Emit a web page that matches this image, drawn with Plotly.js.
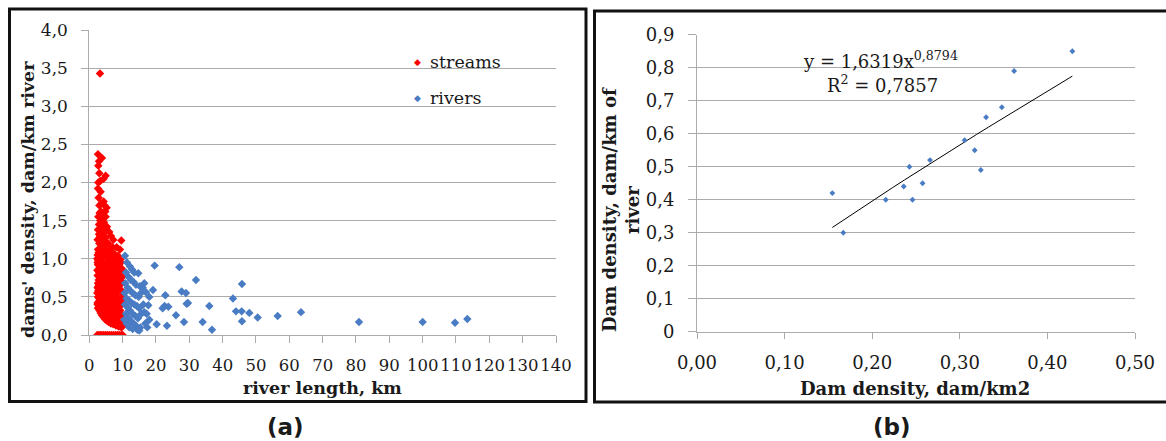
<!DOCTYPE html>
<html>
<head>
<meta charset="utf-8">
<script src="https://cdn.plot.ly/plotly-3.0.1.min.js"></script>
<style>
html,body{margin:0;padding:0;background:#fff;}
#chart{width:1166px;height:441px;}
</style>
</head>
<body>
<div id="chart"></div>
<script>
// ---------- Panel (a): streams ----------
var streamsLength = [
3.2,2.6,3.8,2.7,3.0,4.9,4.3,2.7,3.3,2.9,2.6,3.4,2.8,3.6,4.6,5.2,4.8,3.0,3.5,4.3,3.1,2.7,3.9,4.4,3.3,4.0,4.9,5.3,2.9,3.5,2.6,4.6,6.0,4.1,2.9,3.3,6.5,5.0,3.7,7.2,9.6,2.5,4.2,5.7,3.0,4.5,8.2,3.8,2.6,9.2,3.2,6.8,7.8,8.8,9.5,
2.5,2.9,3.4,3.9,4.4,5.1,5.8,6.3,7.1,8.0,8.6,9.3,
2.6,3.1,3.7,4.2,4.8,5.5,6.1,6.9,7.6,8.3,9.0,9.8,
2.5,2.8,3.3,3.8,4.5,5.0,5.9,6.6,7.3,8.1,8.7,9.4,9.9,
2.7,3.0,3.6,4.0,4.7,5.3,6.2,7.0,7.8,8.4,9.1,9.7,
2.6,3.2,3.9,4.3,5.0,5.7,6.4,7.4,8.0,8.9,9.6,
2.5,2.9,3.5,4.2,4.9,5.6,6.3,7.0,7.9,8.6,9.5,
3.6,4.0,4.6,5.2,6.0,6.8,7.5,8.3,9.2,9.9,
5.4,6.2,7.0,7.8,8.6,9.4,
7.5,8.4,9.1,9.9,
2.5,2.8,3.1,3.4,3.8,4.2,4.7,5.2,5.8,6.5,7.2,8.0,8.8,9.6,
2.4,2.9,3.3,3.8,4.3,4.9,5.4,6.0,6.6,7.2,7.8,8.4,9.0,9.6,10.0,
2.7,3.0,2.8,3.2,2.6,3.1,2.7,3.4,2.8,3.0,3.5,3.4,4.1,4.4,4.9,5.5,5.9,6.5,7.5,6.7,7.7,8.4,9.0,9.3,8.2,7.3,6.4,5.5,4.6,
2.4,2.4,2.4,2.5,2.5,2.6,2.8,2.9,3.0,3.1,3.3,3.3,3.6,3.6,3.7,3.9,4.0,4.1,4.2,4.7,4.8,5.2,5.3,5.6,6.0,6.2,6.7,6.9,7.4,7.0,8.0,8.5,8.9,9.7,9.8,9.3,8.6,7.7,6.6,5.9,5.0,4.4,3.2
];
var streamsDensity = [
3.43,2.37,2.32,2.22,2.12,2.09,2.05,2.00,2.02,2.28,1.92,1.88,1.80,1.72,1.70,1.67,1.62,1.70,1.62,1.75,1.60,1.55,1.52,1.48,1.50,1.60,1.55,1.42,1.45,1.40,1.38,1.38,1.35,1.33,1.32,1.30,1.30,1.28,1.26,1.25,1.24,1.25,1.22,1.20,1.20,1.18,1.15,1.15,1.12,1.12,1.10,1.10,1.05,1.00,0.95,
1.05,1.02,1.06,1.00,1.08,1.03,1.06,0.98,1.02,0.97,1.04,0.99,
0.92,0.88,0.94,0.86,0.93,0.87,0.92,0.86,0.91,0.85,0.90,0.87,
0.78,0.72,0.80,0.74,0.78,0.71,0.77,0.72,0.79,0.73,0.78,0.71,0.76,
0.64,0.57,0.62,0.55,0.63,0.58,0.64,0.56,0.62,0.57,0.65,0.58,
0.50,0.46,0.52,0.45,0.50,0.47,0.52,0.46,0.51,0.45,0.50,
0.42,0.38,0.41,0.36,0.40,0.35,0.41,0.37,0.40,0.35,0.39,
0.30,0.28,0.30,0.26,0.29,0.25,0.29,0.26,0.28,0.25,
0.21,0.18,0.20,0.17,0.19,0.16,
0.15,0.13,0.12,0.11,
0.40,0.36,0.32,0.29,0.26,0.24,0.21,0.19,0.17,0.15,0.14,0.125,0.11,0.10,
0,0,0,0,0,0,0,0,0,0,0,0,0,0,0,
0.98,0.95,0.85,0.76,0.68,0.66,0.58,0.52,0.44,0.82,0.70,0.88,0.66,0.92,0.84,0.66,0.56,0.82,0.68,0.45,0.53,0.66,0.58,0.42,0.32,0.33,0.30,0.31,0.34,
0.55,0.85,1.00,0.62,0.95,0.35,1.08,0.62,0.48,1.28,0.95,0.62,0.48,1.02,0.82,1.35,0.78,1.45,1.02,1.12,0.55,1.20,0.78,0.95,1.12,0.70,0.60,0.95,0.88,1.15,0.85,0.95,0.82,0.68,0.45,0.32,0.24,0.22,0.20,0.22,0.24,0.27,0.35
];

// ---------- Panel (a): rivers ----------
var riversLength = [
10.7,19.6,27.0,32.0,45.8,43.1,36.0,44.0,45.7,48.0,50.5,56.5,45.8,36.8,34.0,28.4,26.0,29.2,29.6,27.7,29.0,22.8,22.0,22.6,23.7,23.3,20.2,19.1,17.7,17.4,16.5,14.7,14.4,12.2,63.5,80.9,100.0,109.7,113.4,
11.3,12.8,13.5,11.0,11.8,12.5,13.2,14.0,15.2,16.0,10.8,11.5,12.3,13.0,13.8,14.8,15.5,17.0,18.0,10.6,11.2,12.0,12.7,13.5,14.3,15.0,16.2,10.7,11.5,12.2,13.0,13.8,14.6,15.6,16.5,11.0,11.8,12.5,13.3,14.0,15.3,16.8,10.5,11.2,12.0,13.0,15.0,18.0,17.2
];
var riversDensity = [
1.04,0.91,0.89,0.72,0.67,0.48,0.38,0.31,0.31,0.29,0.23,0.25,0.18,0.07,0.17,0.17,0.26,0.41,0.42,0.57,0.55,0.52,0.35,0.38,0.37,0.12,0.14,0.59,0.39,0.10,0.68,0.81,0.07,0.90,0.30,0.17,0.17,0.16,0.21,
0.95,0.86,0.82,0.82,0.76,0.72,0.70,0.66,0.64,0.62,0.68,0.62,0.58,0.55,0.52,0.50,0.55,0.56,0.50,0.55,0.48,0.45,0.42,0.40,0.38,0.35,0.40,0.40,0.36,0.32,0.28,0.25,0.22,0.28,0.30,0.28,0.22,0.18,0.15,0.12,0.10,0.15,0.20,0.15,0.10,0.08,0.06,0.20,0.28
];

// ---------- Panel (b) ----------
var damDensityKm2 = [0.1545,0.167,0.2155,0.236,0.2425,0.246,0.2575,0.266,0.3055,0.317,0.324,0.330,0.348,0.362,0.4285];
var damDensityRiver = [0.42,0.30,0.40,0.44,0.50,0.40,0.45,0.52,0.58,0.55,0.49,0.65,0.68,0.79,0.85];
var trendCoef = 1.6319, trendExp = 0.8794;
var trendLabel = "y = 1,6319x<sup>0,8794</sup>";
var r2Label = "R<sup>2</sup> = 0,7857";

// trend line sampled across the data range using the displayed equation
var xmin = Math.min.apply(null, damDensityKm2), xmax = Math.max.apply(null, damDensityKm2);
var trendX = [], trendY = [];
for (var i = 0; i <= 20; i++) {
  var xv = xmin + (xmax - xmin) * i / 20;
  trendX.push(xv);
  trendY.push(trendCoef * Math.pow(xv, trendExp));
}

var W = 1166, H = 441;
function P(px){ return px / W; }
function Q(py){ return 1 - py / H; }

var txt = '#1a1a1a';
var grid = '#ababab';
var serif = 'DejaVu Serif, serif';

var traces = [
  {x: streamsLength, y: streamsDensity, type: 'scatter', mode: 'markers', name: 'streams',
   marker: {symbol: 'diamond', size: 6.5, color: '#ff0000'}, xaxis: 'x', yaxis: 'y', hoverinfo: 'skip'},
  {x: riversLength, y: riversDensity, type: 'scatter', mode: 'markers', name: 'rivers',
   marker: {symbol: 'diamond', size: 6.5, color: '#4a7cc4'}, xaxis: 'x', yaxis: 'y', hoverinfo: 'skip'},
  {x: trendX, y: trendY, type: 'scatter', mode: 'lines', line: {color: '#000', width: 1},
   xaxis: 'x2', yaxis: 'y2', hoverinfo: 'skip'},
  {x: damDensityKm2, y: damDensityRiver, type: 'scatter', mode: 'markers',
   marker: {symbol: 'diamond', size: 4.5, color: '#4a7cc4'}, xaxis: 'x2', yaxis: 'y2', hoverinfo: 'skip'}
];

function axisBase(){
  return {
    showgrid: true, gridcolor: grid, gridwidth: 1,
    showline: true, linecolor: grid, linewidth: 1,
    zeroline: false, ticks: 'outside', tickcolor: grid, ticklen: 7, tickwidth: 1,
    tickfont: {family: serif, size: 17, color: txt}, fixedrange: true
  };
}

var xa = Object.assign(axisBase(), {domain: [P(89.3), P(556)], range: [0, 140], dtick: 10, tick0: 0,
  showgrid: false, anchor: 'y', ticklabelstandoff: 8, tickangle: 0});
xa.tickfont = {family: serif, size: 16.5, color: txt};
var ya = Object.assign(axisBase(), {domain: [Q(335), Q(30)], range: [0, 4], dtick: 0.5, tick0: 0,
  tickformat: '.1f', anchor: 'x', ticklabelstandoff: 10});
var xb = Object.assign(axisBase(), {domain: [P(697), P(1135)], range: [0, 0.5], dtick: 0.1, tick0: 0,
  tickformat: '.2f', showgrid: false, anchor: 'y2', ticklen: 6, ticklabelstandoff: 9, tickangle: 0});
xb.tickfont = {family: serif, size: 18, color: txt};
var yb = Object.assign(axisBase(), {domain: [Q(331.7), Q(34.7)], range: [0, 0.9], dtick: 0.1, tick0: 0,
  anchor: 'x2', ticklen: 8, ticklabelstandoff: 10});
yb.tickfont = {family: serif, size: 18, color: txt};

var ann = [
  {text: "dams' density, dam/km river", x: P(28), y: Q(200), textangle: -90,
   font: {family: serif, size: 17.5, color: txt, weight: 'bold'}},
  {text: "river length, km", x: P(322), y: Q(388),
   font: {family: serif, size: 17.5, color: txt, weight: 'bold'}},
  {text: "◆", x: P(417), y: Q(62), font: {family: 'DejaVu Sans', size: 9, color: '#ff0000'}},
  {text: "streams", x: P(428), y: Q(62), xanchor: 'left', font: {family: serif, size: 17.5, color: txt}},
  {text: "◆", x: P(417), y: Q(98), font: {family: 'DejaVu Sans', size: 9, color: '#4a7cc4'}},
  {text: "rivers", x: P(428), y: Q(98), xanchor: 'left', font: {family: serif, size: 17.5, color: txt}},
  {text: "Dam density, dam/km2", x: P(915), y: Q(388),
   font: {family: serif, size: 18, color: txt, weight: 'bold'}},
  {text: "Dam density, dam/km of<br>river", x: P(621), y: Q(210), textangle: -90,
   font: {family: serif, size: 18, color: txt, weight: 'bold'}},
  {text: trendLabel, x: P(801), y: Q(60), xanchor: 'left', font: {family: serif, size: 18, color: txt}},
  {text: r2Label, x: P(825), y: Q(84), xanchor: 'left', font: {family: serif, size: 18, color: txt}},
  {text: "(a)", x: P(285), y: Q(427), font: {family: 'DejaVu Sans', size: 23, color: txt, weight: 'bold'}},
  {text: "(b)", x: P(892), y: Q(427), font: {family: 'DejaVu Sans', size: 23, color: txt, weight: 'bold'}}
];
ann.forEach(function(a){
  a.xref = 'paper'; a.yref = 'paper'; a.showarrow = false;
  if (!a.xanchor) a.xanchor = 'center';
  a.yanchor = 'middle';
});

var shapes = [
  {type: 'rect', xref: 'paper', yref: 'paper', x0: P(9.5), x1: P(586), y0: Q(401.5), y1: Q(9),
   line: {color: '#111', width: 3}, fillcolor: 'rgba(0,0,0,0)'},
  {type: 'rect', xref: 'paper', yref: 'paper', x0: P(594.5), x1: P(1172), y0: Q(402), y1: Q(11),
   line: {color: '#111', width: 3}, fillcolor: 'rgba(0,0,0,0)'}
];

var layout = {
  width: W, height: H,
  margin: {l: 0, r: 0, t: 0, b: 0, pad: 0},
  paper_bgcolor: '#fff', plot_bgcolor: 'rgba(0,0,0,0)',
  separators: ',.',
  showlegend: false,
  xaxis: xa, yaxis: ya, xaxis2: xb, yaxis2: yb,
  annotations: ann, shapes: shapes
};

Plotly.newPlot('chart', traces, layout, {staticPlot: true, displayModeBar: false});
</script>
</body>
</html>
